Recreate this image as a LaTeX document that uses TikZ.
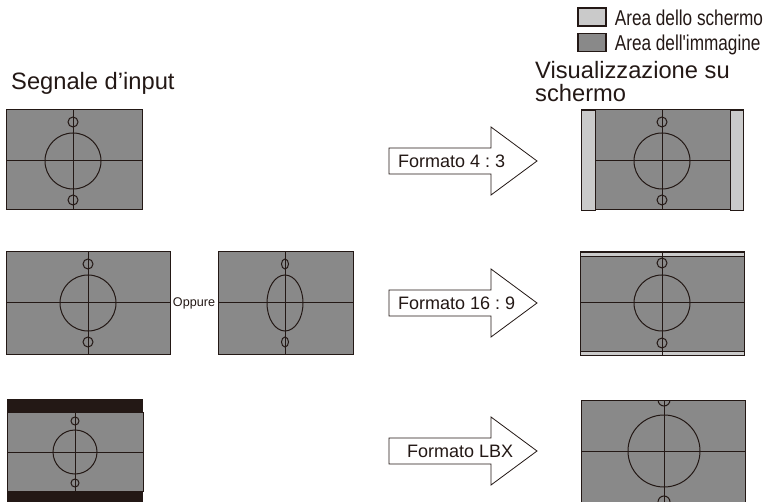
\documentclass[tikz,border=0pt]{standalone}
\usepackage{fontspec}
\setmainfont{Liberation Sans}
\usetikzlibrary{positioning}
\frenchspacing
\definecolor{ink}{HTML}{231815}
\definecolor{picgray}{HTML}{898989}
\definecolor{scrgray}{HTML}{CACACA}
\tikzstyle{screen} = [draw=ink, fill=picgray, line width=1pt]
\tikzstyle{bar} = [draw=ink, fill=scrgray, line width=0.8pt]
\tikzstyle{chartline} = [draw=ink, line width=1pt]
\tikzstyle{fmt} = [draw=ink, fill=white, line width=0.8pt, line join=miter]
\tikzstyle{txt} = [anchor=base west, inner sep=0pt, text=ink]
% straight apostrophe, no tex-text mapping
\newcommand{\sq}{\XeTeXglyph\XeTeXcharglyph"27\relax}
% narrow legend text
\newcommand{\narrow}[1]{\scalebox{0.8}[1]{#1}}
% test chart: centre x, centre y, rx, ry, offset of small ones, small rx, small ry
\newcommand{\chart}[7]{%
  \draw[chartline] (#1,#2) ellipse [x radius=#3, y radius=#4];
  \draw[chartline] (#1,#2-#5) ellipse [x radius=#6, y radius=#7];
  \draw[chartline] (#1,#2+#5) ellipse [x radius=#6, y radius=#7];}
% format arrow at centre y
\newcommand{\fmtarrow}[1]{%
  \draw[fmt] (389,#1-13) -- (491,#1-13) -- (491,#1-34) -- (537,#1)
    -- (491,#1+34) -- (491,#1+13) -- (389,#1+13) -- cycle;}
\begin{document}
\begin{tikzpicture}[x=1pt, y=-1pt]
\tikzset{swatch/.style={draw=ink, line width=1.2pt, minimum width=28pt, minimum height=18pt, inner sep=0pt}}
\tikzset{legend/.style={txt, font=\fontsize{21.5}{22}\selectfont}}
\tikzset{title/.style={txt, font=\fontsize{23.7}{23}\selectfont}}
\tikzset{fmttext/.style={txt, font=\fontsize{18}{20}\selectfont}}
\useasboundingbox (0,0) rectangle (776,502);

% legend
\node[swatch, fill=scrgray] (sw1) at (592,17) {};
\node[swatch, fill=picgray, below=6pt of sw1] (sw2) {};
\node[legend, xshift=8pt, yshift=1pt] (leg1) at (sw1.south east) {\narrow{Area dello schermo}};
\node[legend, xshift=8pt, yshift=1pt] (leg2) at (sw2.south east) {\narrow{Area dell\sq immagine}};

% titles
\node[title] (tin) at (11,90) {Segnale d’input};
\node[title] (tout) at (535,79) {Visualizzazione su};
\node[title] (tout2) at (535,101.5) {schermo};

% input 4:3
\draw[screen] (6,110) rectangle (142,210);
\draw[chartline] (6,161) -- (142,161);
\draw[chartline] (73,110) -- (73,210);
\chart{73}{161}{28}{28}{39}{5}{5}

% input 16:9, two cases
\draw[screen] (6,252) rectangle (170,355);
\draw[chartline] (6,303) -- (170,303);
\draw[chartline] (88,252) -- (88,355);
\chart{88}{303}{28}{28}{39}{5}{5}
\node[fmttext, anchor=center, font=\fontsize{12.6}{14}\selectfont] (oppure) at (194,303) {Oppure};
\draw[screen] (218,252) rectangle (353,355);
\draw[chartline] (218,303) -- (353,303);
\draw[chartline] (285,252) -- (285,355);
\chart{285}{303}{18}{28}{39}{3.5}{5}

% input letterbox
\fill[ink] (7,399) rectangle (143,502);
\draw[screen] (7,412) rectangle (143,491);
\draw[chartline] (7,452) -- (143,452);
\draw[chartline] (75,412) -- (75,491);
\chart{75}{452}{22}{22}{31}{4}{4}

% arrows
\fmtarrow{161}
\node[fmttext] (f43) at (398,167.5) {Formato 4 : 3};
\fmtarrow{303}
\node[fmttext] (f169) at (398,309.5) {Formato 16 : 9};
\fmtarrow{451}
\node[fmttext] (flbx) at (407,457.5) {Formato LBX};

% output 4:3
\draw[screen] (581,110) rectangle (743,210);
\draw[bar] (581,110) rectangle (595,210);
\draw[bar] (730,110) rectangle (743,210);
\draw[chartline] (595,161) -- (730,161);
\draw[chartline] (662,110) -- (662,210);
\chart{662}{161}{28}{28}{39}{5}{5}

% output 16:9
\draw[screen] (580,252) rectangle (744,355);
\draw[bar] (580,252) rectangle (744,256);
\draw[bar] (580,351) rectangle (744,355);
\draw[chartline] (580,303) -- (744,303);
\draw[chartline] (662,252) -- (662,355);
\chart{662}{303}{28}{28}{40}{5}{5}

% output LBX
\draw[screen] (581,400) rectangle (745,504);
\begin{scope}
\clip (581,400) rectangle (745,502);
\draw[chartline] (581,451) -- (745,451);
\draw[chartline] (664,400) -- (664,502);
\chart{664}{451}{36}{36}{51}{6}{6}
\end{scope}
\end{tikzpicture}
\end{document}
